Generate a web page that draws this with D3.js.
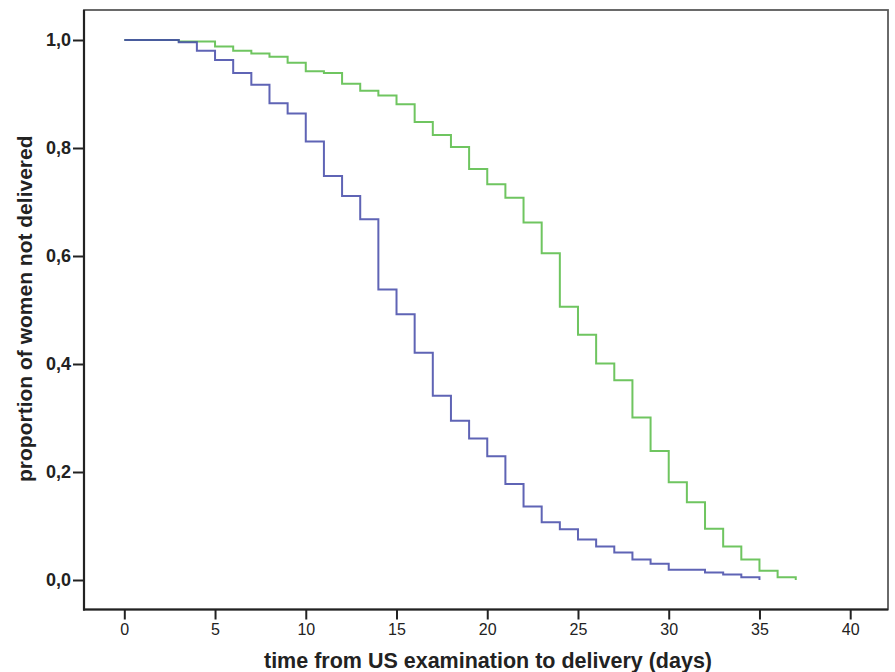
<!DOCTYPE html>
<html>
<head>
<meta charset="utf-8">
<script src="https://cdn.jsdelivr.net/npm/d3@7"></script>
<style>
  html, body { margin: 0; padding: 0; background: #fff; }
  svg { display: block; }
</style>
</head>
<body>
<svg id="chart" width="895" height="672"></svg>
<script>
// ---- data ----
const blueTimes = [0, 3, 4, 5, 6, 7, 8, 9, 10, 11, 12, 13, 14, 15, 16, 17, 18, 19, 20, 21, 22, 23, 24, 25, 26, 27, 28, 29, 30, 32, 33, 34, 35];
const blueSurv  = [1.0, 0.996, 0.980, 0.963, 0.939, 0.917, 0.883, 0.864, 0.812, 0.748, 0.711, 0.668, 0.538, 0.492, 0.421, 0.341, 0.295, 0.262, 0.229, 0.178, 0.136, 0.107, 0.094, 0.075, 0.062, 0.051, 0.038, 0.030, 0.019, 0.014, 0.010, 0.005, 0.000];
const greenTimes = [0, 3, 5, 6, 7, 8, 9, 10, 11, 12, 13, 14, 15, 16, 17, 18, 19, 20, 21, 22, 23, 24, 25, 26, 27, 28, 29, 30, 31, 32, 33, 34, 35, 36, 37];
const greenSurv  = [1.0, 0.997, 0.988, 0.980, 0.975, 0.969, 0.958, 0.942, 0.939, 0.919, 0.906, 0.897, 0.881, 0.848, 0.824, 0.802, 0.761, 0.733, 0.708, 0.662, 0.605, 0.506, 0.454, 0.401, 0.370, 0.301, 0.239, 0.181, 0.144, 0.095, 0.062, 0.038, 0.017, 0.005, 0.000];
const xTicks = [0, 5, 10, 15, 20, 25, 30, 35, 40];
const yTicks = [0, 0.2, 0.4, 0.6, 0.8, 1.0];
const yTickLabels = ["0,0", "0,2", "0,4", "0,6", "0,8", "1,0"];
const xTitle = "time from US examination to delivery (days)";
const yTitle = "proportion of women not delivered";

// ---- layout ----
const frame = { left: 84, right: 888, top: 10, bottom: 609.5 };
const svg = d3.select("#chart");

const x = d3.scaleLinear().domain([0, 40]).range([124.3, 850.2]);
const y = d3.scaleLinear().domain([0, 1]).range([580, 40]);

// frame (top/right)
svg.append("rect")
  .attr("x", frame.left).attr("y", frame.top)
  .attr("width", frame.right - frame.left).attr("height", frame.bottom - frame.top)
  .attr("fill", "none").attr("stroke", "#5a5a5a").attr("stroke-width", 1.8);

// y axis
const yAxis = d3.axisLeft(y).tickValues(yTicks)
  .tickFormat((d, i) => yTickLabels[i]).tickSize(11).tickPadding(2);
const gy = svg.append("g").attr("transform", `translate(${frame.left},0)`).call(yAxis);
gy.select(".domain").remove();
gy.selectAll(".tick line").attr("stroke", "#222").attr("stroke-width", 2);
gy.selectAll(".tick text")
  .attr("font-family", "Liberation Sans, Arial, sans-serif")
  .attr("font-weight", "bold").attr("font-size", 18).attr("fill", "#222");
svg.append("line")
  .attr("x1", frame.left).attr("x2", frame.left)
  .attr("y1", frame.top).attr("y2", frame.bottom + 1)
  .attr("stroke", "#222").attr("stroke-width", 2.2);

// x axis
const xAxis = d3.axisBottom(x).tickValues(xTicks).tickSize(10).tickPadding(4);
const gx = svg.append("g").attr("transform", `translate(0,${frame.bottom})`).call(xAxis);
gx.select(".domain").remove();
gx.selectAll(".tick line").attr("stroke", "#222").attr("stroke-width", 2);
gx.selectAll(".tick text")
  .attr("font-family", "Liberation Sans, Arial, sans-serif")
  .attr("font-size", 16).attr("fill", "#222");
svg.append("line")
  .attr("x1", frame.left - 1).attr("x2", frame.right)
  .attr("y1", frame.bottom).attr("y2", frame.bottom)
  .attr("stroke", "#222").attr("stroke-width", 2.2);

// curves
const line = d3.line()
  .x(d => x(d[0])).y(d => y(d[1]))
  .curve(d3.curveStepAfter);

const greenData = greenTimes.map((t, i) => [t, greenSurv[i]]);
const blueData = blueTimes.map((t, i) => [t, blueSurv[i]]);

svg.append("path").datum(greenData)
  .attr("d", line).attr("fill", "none")
  .attr("stroke", "#5fbf4f").attr("stroke-width", 2).attr("stroke-opacity", 0.9);
svg.append("path").datum(blueData)
  .attr("d", line).attr("fill", "none")
  .attr("stroke", "#4349a8").attr("stroke-width", 2).attr("stroke-opacity", 0.85);

// titles
svg.append("text")
  .attr("x", (frame.left + frame.right) / 2 + 2).attr("y", 668)
  .attr("text-anchor", "middle")
  .attr("font-family", "Liberation Sans, Arial, sans-serif")
  .attr("font-weight", "bold").attr("font-size", 21.5).attr("fill", "#222")
  .text(xTitle);

svg.append("text")
  .attr("transform", `translate(32,${(frame.top + frame.bottom) / 2 - 1}) rotate(-90)`)
  .attr("text-anchor", "middle")
  .attr("font-family", "Liberation Sans, Arial, sans-serif")
  .attr("font-weight", "bold").attr("font-size", 21).attr("fill", "#222")
  .text(yTitle);
</script>
</body>
</html>
